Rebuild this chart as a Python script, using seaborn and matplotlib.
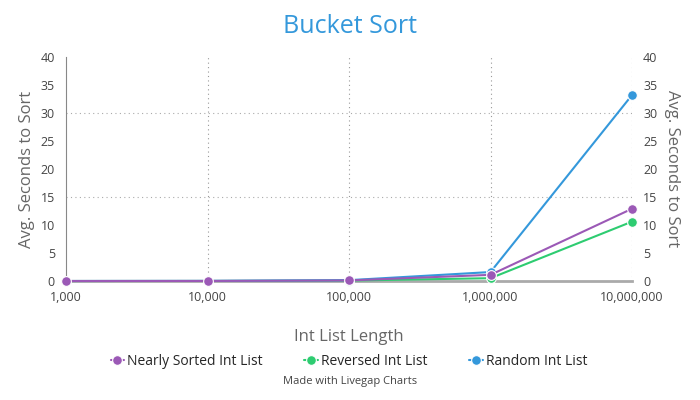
import matplotlib
matplotlib.use("Agg")
import matplotlib.pyplot as plt
import seaborn as sns
import pandas as pd

categories = ["1,000", "10,000", "100,000", "1,000,000", "10,000,000"]
nearly = [0.0, 0.01, 0.1, 1.1, 12.9]
reversed_ = [0.0, 0.01, 0.08, 0.5, 10.6]
random_ = [0.0, 0.02, 0.15, 1.6, 33.2]
series_names = ["Nearly Sorted Int List", "Reversed Int List", "Random Int List"]
colors = ["#9b59b6", "#2ecc71", "#3498db"]

rows = []
for name, vals in zip(series_names, [nearly, reversed_, random_]):
    for i, v in enumerate(vals):
        rows.append({"x": i, "y": v, "s": name})
df = pd.DataFrame(rows)

sns.set_style("white")
plt.rcParams['font.family'] = ['Open Sans', 'DejaVu Sans']
fig = plt.figure(figsize=(7, 4), dpi=100)
ax = fig.add_axes([66/700, 1-281/400, (632-66)/700, (281-57)/400])
zord = {0: 6, 1: 4, 2: 5}
for k in [1, 2, 0]:
    sub = df[df.s == series_names[k]]
    sns.lineplot(data=sub, x="x", y="y", ax=ax, color=colors[k], marker="o",
                 markersize=7, markeredgecolor="white", markeredgewidth=0.8,
                 linewidth=1.5, label=series_names[k], zorder=zord[k], clip_on=False)
ax.set_xlim(0, 4)
ax.set_ylim(0, 40)
ax.set_yticks(range(0, 41, 5))
ax.set_xticks(range(5))
ax.set_xticklabels(categories)
for i in range(1, 5):
    ax.axvline(i, color="#999999", linestyle=(0, (1, 3)), linewidth=0.8, zorder=1)
for yv in [15, 30]:
    ax.axhline(yv, color="#aaaaaa", linestyle=(0, (1, 3)), linewidth=0.8, zorder=1)
for s in ["top", "right"]:
    ax.spines[s].set_visible(False)
ax.spines["left"].set_color("#888888")
ax.spines["bottom"].set_color("#aaaaaa")
ax.spines["bottom"].set_linewidth(2)
ax.tick_params(axis="y", labelsize=9, colors="#444444", length=0, pad=8)
ax.tick_params(axis="x", labelsize=9, colors="#444444", length=0, pad=7)
ax.set_xlabel("Int List Length", fontsize=12, color="#666666", labelpad=18)
ax.set_ylabel("Avg. Seconds to Sort", fontsize=12, color="#666666")
ax2 = ax.twinx()
ax2.set_ylim(0, 40)
ax2.set_yticks(range(0, 41, 5))
for s in ax2.spines.values():
    s.set_visible(False)
ax2.tick_params(labelsize=9, colors="#444444", length=0, pad=8)
ax2.set_ylabel("Avg. Seconds to Sort", fontsize=12, color="#666666", rotation=270, labelpad=16)
fig.suptitle("Bucket Sort", fontsize=18, color="#3498db", y=0.965)
h, l = ax.get_legend_handles_labels()
hm = dict(zip(l, h))
ax.legend([hm[n] for n in series_names], series_names, loc="upper center",
          bbox_to_anchor=(0.5, -0.27), ncol=3, frameon=False, fontsize=10,
          handlelength=1.0, columnspacing=3, handletextpad=0.2)
fig.text(0.5, 0.04, "Made with Livegap Charts", ha="center", fontsize=8, color="#444444")
fig.savefig("out.png")
